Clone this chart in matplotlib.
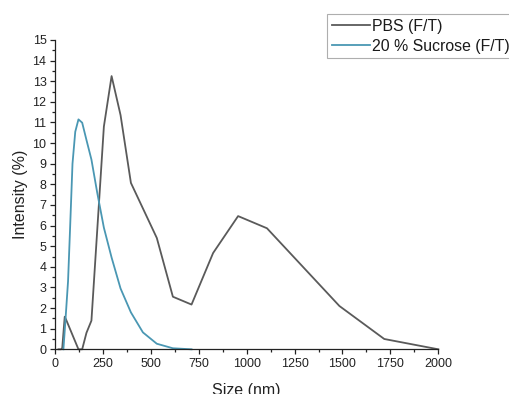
import matplotlib
matplotlib.use("Agg")
import matplotlib.pyplot as plt
from matplotlib.ticker import MultipleLocator

plt.rcParams['font.family'] = ['Liberation Sans', 'DejaVu Sans']

# PBS (F/T)
pbs_size = [18.17, 32.67, 37.84, 50.75, 58.77, 122.4, 141.8, 164.2, 190.1,
            255.0, 295.3, 342.0, 396.1, 531.2, 615.1, 712.4, 825.0, 955.4,
            1106, 1484, 1718, 2000]
pbs_int = [0.0, 0.0, 0.07, 1.58, 1.42, 0.0, 0.0, 0.8, 1.39,
           10.8, 13.25, 11.36, 8.07, 5.4, 2.55, 2.17, 4.67, 6.46,
           5.87, 2.1, 0.5, 0.0]

# 20 % Sucrose (F/T)
suc_size = [43.82, 50.75, 58.77, 68.06, 78.82, 91.28, 105.7, 122.4, 141.8,
            164.2, 190.1, 220.2, 255.0, 295.3, 342.0, 396.1, 458.7, 531.2,
            615.1, 712.4]
suc_int = [0.0, 0.9, 2.0, 3.3, 5.9, 9.0, 10.55, 11.15, 10.99,
           10.15, 9.2, 7.6, 5.9, 4.45, 2.95, 1.79, 0.82, 0.27,
           0.05, 0.0]

labels = ["PBS (F/T)", "20 % Sucrose (F/T)"]

fig = plt.figure(figsize=(5.09, 3.94), dpi=100)
ax = fig.add_axes([55 / 509, (394 - 349.3) / 394, (438.3 - 55) / 509, (349.3 - 40) / 394])

ax.plot(pbs_size, pbs_int, color="#5a5a5a", lw=1.3, label=labels[0], clip_on=False)
ax.plot(suc_size, suc_int, color="#4a97b3", lw=1.3, label=labels[1], clip_on=False)

ax.set_xlim(0, 2000)
ax.set_ylim(0, 15)
ax.xaxis.set_major_locator(MultipleLocator(250))
ax.xaxis.set_minor_locator(MultipleLocator(125))
ax.yaxis.set_major_locator(MultipleLocator(1))
ax.yaxis.set_minor_locator(MultipleLocator(0.5))

for s in ["top", "right"]:
    ax.spines[s].set_visible(False)
for s in ["left", "bottom"]:
    ax.spines[s].set_linewidth(0.9)
    ax.spines[s].set_color("#222222")

ax.tick_params(which="major", direction="out", length=3.6, width=0.9,
               labelsize=9, pad=2.5, colors="#222222")
ax.tick_params(which="minor", direction="out", length=2.2, width=0.9, colors="#222222")

ax.set_xlabel("Size (nm)", fontsize=11.5, labelpad=9.5, color="#222222")
ax.set_ylabel("Intensity (%)", fontsize=11.5, labelpad=3, color="#222222")

leg = ax.legend(loc="upper left", bbox_to_anchor=(327 / 509, 1 - 14 / 394),
                bbox_transform=fig.transFigure, fontsize=11.4, frameon=True,
                fancybox=False, handlelength=2.4, handletextpad=0.12,
                borderpad=0.3, labelspacing=0.3, borderaxespad=0)
leg.get_frame().set_edgecolor("#9a9a9a")
leg.get_frame().set_linewidth(0.8)
for t in leg.get_texts():
    t.set_color("#1a1a1a")

fig.savefig("out.png", dpi=100)
